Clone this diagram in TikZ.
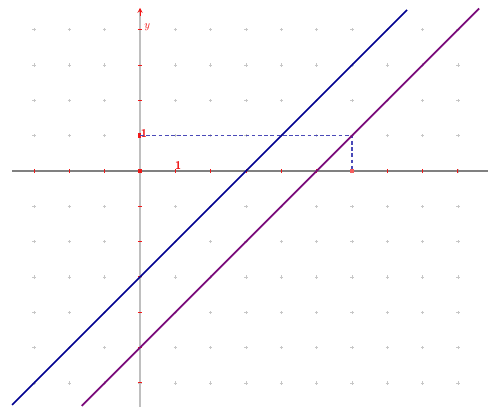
\documentclass[tikz,border=0pt]{standalone}
\usetikzlibrary{arrows.meta}
\definecolor{lineblue}{HTML}{000090}
\definecolor{linepurple}{HTML}{7A0A7A}
\definecolor{dashblue}{HTML}{4A4AB8}
\definecolor{axred}{HTML}{F01818}
\tikzset{
  gridpt/.style={draw=black!22, line width=0.5pt},
  tickmark/.style={draw=axred, line width=0.8pt},
  lbl/.style={text=axred, font=\sffamily\bfseries\small, inner sep=0pt},
  graphline/.style={line width=1.4pt},
  helper/.style={draw=dashblue, line width=1.2pt, dash pattern=on 3pt off 2pt}
}
\begin{document}
\begin{tikzpicture}[x=1cm,y=1cm]
\useasboundingbox (-3.963,-6.68) rectangle (9.85,4.84);
% grid points
\foreach \i in {-3,...,9}{
  \foreach \j in {-6,...,4}{
    \draw[gridpt] (\i-0.05,\j) -- (\i+0.05,\j) (\i,\j-0.05) -- (\i,\j+0.05);
  }
}
% axes
\draw[draw=black!50, line width=1pt] (-3.62,0) -- (9.85,0);
\draw[draw=black!25, line width=1.6pt] (0,-6.68) -- (0,4.58);
% ticks
\foreach \i in {-3,...,9}{ \draw[tickmark] (\i,-0.06) -- (\i,0.06); }
\foreach \j in {-6,...,4}{ \draw[tickmark] (-0.06,\j) -- (0.06,\j); }
\draw[axred, line width=0.8pt, -{Stealth[length=4pt,width=4pt]}] (0,4.4) -- (0,4.62);
\fill[axred] (-0.07,-0.07) rectangle (0.07,0.07);
\fill[axred] (-0.07,0.93) rectangle (0.02,1.07);
% labels
\node[lbl, anchor=south west] (ylab) at (0.1,3.95) {\normalfont\itshape\small y};
\node[lbl, anchor=south] (xone) at (1.08,0.04) {1};
\node[lbl, anchor=west] (yone) at (0.02,1.05) {1};
% helper dashed lines
\coordinate (A) at (0,1);
\coordinate (P) at (6,1);
\coordinate (Q) at (6,0);
\draw[helper] (A) -- (P) -- (Q);
\fill[axred!70] (5.93,-0.07) rectangle (6.07,0.07);
% graph lines
\draw[graphline, lineblue] (-3.62,-6.62) -- (7.56,4.56);
\draw[graphline, linepurple] (-1.65,-6.65) -- (9.6,4.6);
\end{tikzpicture}
\end{document}
